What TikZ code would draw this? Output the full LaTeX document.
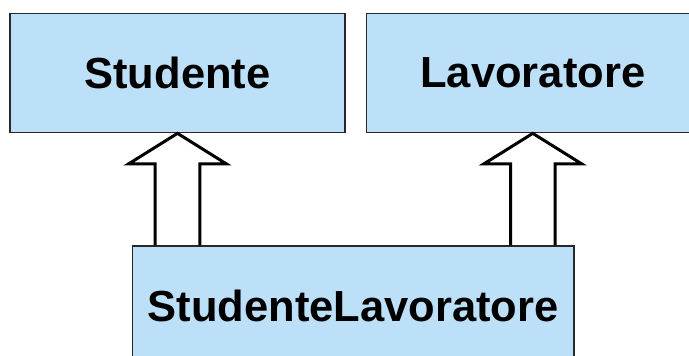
\documentclass[tikz,border=0pt]{standalone}
\usepackage{fontspec}
\setmainfont{Liberation Sans}
\usetikzlibrary{calc}
\definecolor{boxfill}{RGB}{187,224,247}
\definecolor{boxline}{RGB}{40,40,40}
\tikzset{
  classbox/.style={draw=boxline, fill=boxfill, line width=1.3pt, inner sep=0pt,
    font=\fontsize{43.5pt}{50pt}\selectfont\bfseries},
  blockarrow/.style={draw=black, line width=3pt, miter limit=10}
}
\begin{document}
\begin{tikzpicture}[x=1pt,y=1pt]
\useasboundingbox (0,0) rectangle (689,356);
\clip (0,0) rectangle (689,356);
\node[classbox, minimum width=335pt, minimum height=119.4pt] (s) at (177.5,283) {Studente};
\node[classbox, minimum width=332.3pt, minimum height=119.4pt] (l) at (532.8,283) {Lavoratore};
\node[classbox, minimum width=441.7pt, minimum height=120pt] (sl) at (353.2,50) {StudenteLavoratore};
\foreach \t in {s,l}{
  \coordinate (base) at (\t.south |- sl.north);
  \draw[blockarrow]
    ($(base)+(-22.3,0)$)
    -- ($(\t.south)+(-22.3,-30.6)$)
    -- ($(\t.south)+(-49,-30.6)$)
    -- (\t.south)
    -- ($(\t.south)+(49,-30.6)$)
    -- ($(\t.south)+(22.3,-30.6)$)
    -- ($(base)+(22.3,0)$);
}
\end{tikzpicture}
\end{document}
